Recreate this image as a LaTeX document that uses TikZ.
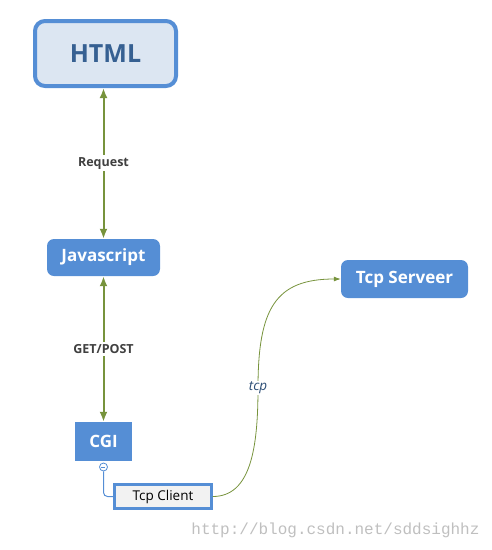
\documentclass[tikz,border=0pt]{standalone}
\usepackage{fontspec}
\setmainfont{Open Sans}
\setmonofont{Liberation Mono}
\usetikzlibrary{arrows.meta, positioning}
\definecolor{boxblue}{HTML}{558ED5}
\definecolor{paleblue}{HTML}{DCE6F2}
\definecolor{darkblue}{HTML}{366092}
\definecolor{linkgreen}{HTML}{77933C}
\definecolor{labelgray}{HTML}{404040}

\begin{document}
\begin{tikzpicture}[x=1pt, y=-1pt,
        topbox/.style={rectangle, rounded corners=10pt, draw=boxblue, line width=4pt, fill=paleblue, minimum width=141pt, minimum height=65pt, text=darkblue, font=\fontsize{25}{30}\selectfont\bfseries},
        blue/.style={rectangle, fill=boxblue, text=white, font=\fontsize{17}{20}\selectfont\bfseries, inner sep=0pt},
        client/.style={rectangle, draw=boxblue, line width=2.5pt, fill=black!5, minimum width=97pt, minimum height=24pt, font=\fontsize{13.5}{16}\selectfont, inner sep=0pt},
        link/.style={{Latex[length=10pt,width=8pt]}-{Latex[length=10pt,width=8pt]}, line width=2pt, draw=linkgreen},
        linklabel/.style={fill=white, text=labelgray, font=\fontsize{12.5}{15}\selectfont\bfseries, inner sep=2pt}]

        \useasboundingbox (0,0) rectangle (491,550);

        % Boxes
        \node[topbox] (html) at (105.5,53.5) {HTML};
        \node[blue, rounded corners=7pt, minimum width=113pt, minimum height=37pt] (js) at (103.5,257.5) {Javascript};
        \node[blue, minimum width=57pt, minimum height=39pt] (cgi) at (103.5,441.5) {CGI};
        \node[client] (tcpc) at (163,496.5) {Tcp Client};
        \node[blue, rounded corners=7pt, minimum width=127pt, minimum height=38pt] (tcps) at (404.5,279) {Tcp Serveer};

        % Links
        \draw[link] (html.south -| js) -- node[linklabel] (req) {Request} (js.north);
        \draw[link] (js.south) -- node[linklabel] (gp) {GET/POST} (cgi.north);

        % Collapse mark + branch
        \node[circle, draw=boxblue, fill=white, line width=0.8pt, minimum size=8pt, inner sep=0pt] (col) at (103.5,467) {};
        \draw[boxblue, line width=0.8pt] (col.west) ++(2,0) -- ++(4,0);
        \draw[boxblue, line width=1pt, rounded corners=4pt] (col.south) |- (tcpc.west);

        % tcp
        \coordinate (mid) at (258,388);
        \draw[linkgreen, line width=0.8pt, -{Latex[length=7pt,width=5pt]}] (tcpc.east) .. controls +(38,0) and +(0,60) .. (mid) .. controls +(0,-80) and +(-65,0) .. (tcps.west);
        \node[fill=white, text=darkblue!80!black, font=\fontsize{13.5}{16}\selectfont\itshape, inner sep=1pt] (tcplabel) at (mid) {tcp};

        % watermark
        \node[text=black!25, font=\ttfamily\fontsize{16}{18}\selectfont, anchor=east] (mark) at (483,530) {http://blog.csdn.net/sddsighhz};
    \end{tikzpicture}
\end{document}
